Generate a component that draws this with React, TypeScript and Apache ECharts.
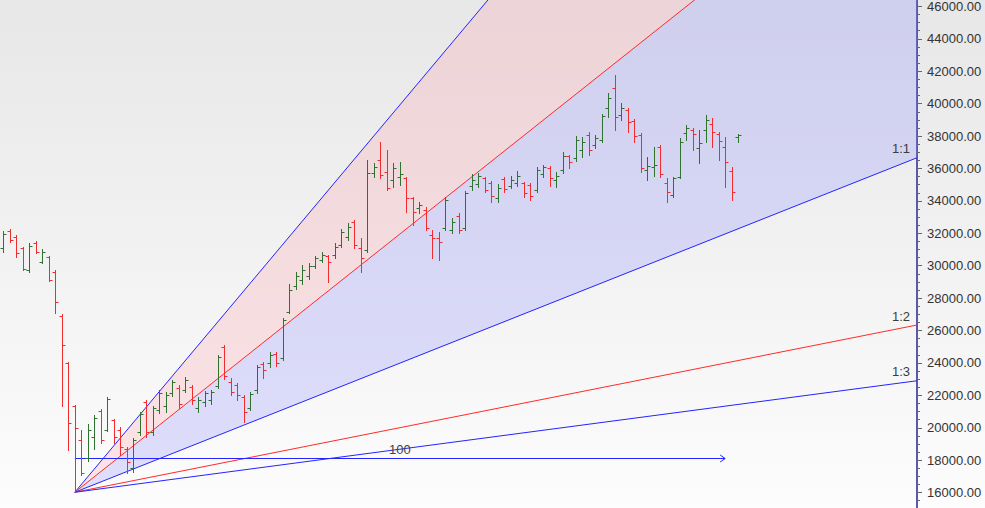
import React, { useEffect, useRef } from 'react';
import * as echarts from 'echarts';

// OHLC bars, index = bar number (x position)
const opens = [
  31070, 32120, 31750, 31070, 29710, 31380, 30210, 30520, 29590, 26880,
  23980, 21320, 19230, 18120, 19410, 21020, 19840, 20460, 19840, 18670,
  17500, 19720, 21570, 19720, 21080, 21320, 22130, 22430, 22310, 22500,
  21200, 21570, 21690, 22560, 24960, 22800, 22620, 21880, 21200, 22310,
  23910, 23980, 24530, 24290, 27120, 28730, 29100, 29340, 29960, 30330,
  30580, 30640, 31260, 31750, 32670, 31070, 30950, 35700, 36500, 35760,
  35270, 35450, 35390, 34160, 33540, 33420, 31870, 31690, 32300, 32180,
  33050, 32300, 34900, 35020, 35390, 35080, 34160, 35330, 34900, 35080,
  35080, 34960, 34650, 35640, 36010, 35270, 35880, 36750, 36620, 37120,
  38040, 37420, 37730, 39710, 40940, 39280, 39580, 38910, 38040, 35880,
  36070, 37300, 35080, 34340, 35450, 38170, 38350, 37240, 38350, 38720,
  38100, 37300, 35820, 37920,
];
const highs = [
  32120, 32240, 31870, 31130, 31380, 31500, 31010, 30580, 29710, 27000,
  24040, 21390, 19840, 20210, 20770, 21140, 21880, 20520, 20030, 18790,
  19350, 20950, 21690, 21320, 22310, 22190, 22930, 22620, 23110, 22620,
  21880, 22250, 22310, 24470, 25090, 23050, 22740, 22000, 22190, 23850,
  24040, 24660, 24660, 26750, 28850, 29590, 30020, 30150, 30580, 30820,
  30640, 31380, 32240, 32610, 32800, 31690, 36500, 36310, 37610, 37120,
  36310, 36380, 35450, 34220, 33910, 33600, 32180, 32060, 34220, 32920,
  33230, 34590, 35640, 35700, 35450, 35200, 35020, 35450, 35510, 35820,
  35140, 35080, 36070, 36190, 36130, 35760, 36990, 36810, 37980, 37920,
  38230, 38040, 39340, 40630, 41740, 40020, 39710, 39030, 38170, 36680,
  37300, 37420, 35390, 35450, 37860, 38660, 38470, 38350, 39280, 39090,
  38230, 37920, 36070, 38100,
];
const lows = [
  30820, 31440, 30520, 29710, 29590, 30760, 30150, 29040, 27060, 21320,
  18610, 16020, 17070, 17930, 18670, 19040, 19780, 19040, 18300, 17190,
  17250, 19530, 19410, 19530, 20890, 20950, 21940, 21200, 22190, 21450,
  20950, 21320, 21450, 22430, 22990, 22000, 21690, 20340, 21080, 22130,
  23050, 23730, 23790, 24160, 27060, 28540, 28850, 29160, 29840, 30210,
  28970, 30450, 31130, 31560, 31070, 29590, 30820, 35450, 35390, 34650,
  34830, 34960, 33290, 32490, 33230, 32180, 30450, 30330, 32180, 32000,
  32000, 32180, 34650, 34830, 34530, 33910, 33910, 34530, 34770, 34900,
  34220, 34030, 34530, 35450, 34900, 34830, 35700, 36010, 36440, 36680,
  36810, 37240, 37610, 39150, 38350, 38970, 38230, 37610, 35760, 35270,
  35510, 35450, 33910, 34220, 35390, 37730, 37120, 36310, 37610, 37300,
  36500, 34830, 34030, 37610,
];
const closes = [
  31930, 31560, 30760, 29780, 31190, 30820, 30820, 29100, 27740, 25090,
  20280, 19970, 17190, 19840, 20580, 19230, 21760, 19410, 18790, 17870,
  19230, 20830, 19720, 21200, 22130, 22000, 22800, 21450, 22930, 21690,
  21690, 22130, 22190, 24350, 23170, 22190, 22000, 20950, 22060, 23730,
  23540, 24470, 23980, 26630, 28480, 29340, 29710, 29960, 30450, 30640,
  30210, 31130, 32060, 32370, 31260, 30450, 35700, 36070, 35570, 34770,
  36010, 35640, 34160, 33290, 33720, 32300, 31690, 31440, 34030, 32670,
  32180, 34460, 35270, 35510, 34650, 34280, 34770, 34710, 35270, 35510,
  34460, 34280, 35880, 36070, 35390, 35510, 36750, 36380, 37730, 37610,
  37120, 37860, 39210, 40320, 39150, 39710, 38840, 37980, 36010, 36130,
  36190, 35640, 34530, 35390, 37610, 38470, 38100, 37550, 38970, 38230,
  37670, 36380, 34530, 38040,
];

// Gann fan
const fanOrigin: [number, number] = [11, 16020];
const fanUnit = 159.4; // price per bar for 1:1
const fanRatios = [3, 2, 1, 1 / 2, 1 / 3];
const fanColors = ['#2424ff', '#ff2a2a', '#2424ff', '#ff2a2a', '#2424ff'];
const fanLabels = ['', '', '1:1', '1:2', '1:3'];

// range measure arrow
const rangeStart = 11;
const rangeEnd = 111;
const rangePrice = 18160;
const rangeLabel = '100';

const yLabelRange = [16000, 46000];

const X_MIN = -0.5;
const X_MAX = 140.5;
const Y_MIN = 14000;
const Y_MAX = 48000;

const FONT = '"Liberation Sans", Arial, sans-serif';
const GREEN = '#2f722f';
const RED = '#f22c2c';

function fanEnd(r: number): [number, number] {
  return [X_MAX, fanOrigin[1] + r * fanUnit * (X_MAX - fanOrigin[0])];
}

export default function App() {
  const ref = useRef<HTMLDivElement>(null);
  useEffect(() => {
    document.body.style.margin = '0';
    document.body.style.overflow = 'hidden';
    const chart = echarts.init(ref.current!, undefined, { renderer: 'svg' });
    const ohlc = opens.map((o, k) => [k, o, highs[k], lows[k], closes[k]]);

    const option: any = {
      animation: false,
      backgroundColor: {
        type: 'linear', x: 0, y: 0, x2: 0, y2: 1,
        colorStops: [
          { offset: 0, color: '#e6e6e7' },
          { offset: 1, color: '#fdfdfd' },
        ],
      },
      grid: { left: 0, right: 68, top: 0, bottom: 0 },
      xAxis: { type: 'value', min: X_MIN, max: X_MAX, show: false },
      yAxis: {
        type: 'value',
        position: 'right',
        min: Y_MIN,
        max: Y_MAX,
        interval: 2000,
        axisLine: { show: true, onZero: false, lineStyle: { color: '#5a5aa8', width: 2 } },
        axisTick: { show: true, length: 5, lineStyle: { color: '#666' } },
        minorTick: { show: true, splitNumber: 4, length: 3, lineStyle: { color: '#666' } },
        splitLine: { show: false },
        axisLabel: {
          showMinLabel: false,
          showMaxLabel: false,
          margin: 10,
          color: '#333',
          fontSize: 13,
          fontFamily: FONT,
          formatter: (v: number) => (v >= yLabelRange[0] && v <= yLabelRange[1] ? v.toFixed(2) : ''),
        },
      },
      series: [
        {
          type: 'custom',
          coordinateSystem: 'cartesian2d',
          clip: true,
          silent: true,
          z: 1,
          data: [fanOrigin],
          encode: { x: 0, y: 1 },
          renderItem: (_p: any, api: any) => {
            const o = api.coord(fanOrigin);
            const a3 = api.coord(fanEnd(fanRatios[0]));
            const a2 = api.coord(fanEnd(fanRatios[1]));
            const a1 = api.coord(fanEnd(fanRatios[2]));
            return {
              type: 'group',
              children: [
                { type: 'polygon', shape: { points: [o, a3, a2] }, style: { fill: 'rgba(255,140,155,0.22)' } },
                { type: 'polygon', shape: { points: [o, a2, a1] }, style: { fill: 'rgba(135,135,255,0.25)' } },
              ],
            };
          },
        },
        ...fanRatios.map((r, k) => ({
          type: 'line',
          data: [fanOrigin, fanEnd(r)],
          symbol: 'none',
          silent: true,
          clip: true,
          z: 2,
          lineStyle: { color: fanColors[k], width: 1 },
        })),
        {
          type: 'custom',
          coordinateSystem: 'cartesian2d',
          silent: true,
          z: 3,
          data: [[rangeStart, rangePrice]],
          encode: { x: 0, y: 1 },
          renderItem: (_p: any, api: any) => {
            const s = api.coord([rangeStart, rangePrice]);
            const e = api.coord([rangeEnd, rangePrice]);
            const y = Math.round(s[1]) + 0.5;
            const children: any[] = [
              { type: 'line', shape: { x1: s[0], y1: y, x2: e[0], y2: y }, style: { stroke: '#2424ff', lineWidth: 1 } },
              { type: 'line', shape: { x1: Math.round(s[0]) + 0.5, y1: y - 4, x2: Math.round(s[0]) + 0.5, y2: y + 4 }, style: { stroke: '#2424ff', lineWidth: 1 } },
              { type: 'polyline', shape: { points: [[e[0] - 5, y - 3.5], [e[0], y], [e[0] - 5, y + 3.5]] }, style: { stroke: '#2424ff', lineWidth: 1, fill: 'none' } },
              {
                type: 'text',
                x: (s[0] + e[0]) / 2,
                y: y - 9,
                style: { text: rangeLabel, fill: '#444', font: `13px ${FONT}`, align: 'center', verticalAlign: 'middle' },
              },
            ];
            fanRatios.forEach((r, k) => {
              if (!fanLabels[k]) return;
              const p = api.coord(fanEnd(r));
              children.push({
                type: 'text',
                x: p[0] - 7,
                y: p[1] - 9,
                style: { text: fanLabels[k], fill: '#3c3c3c', font: `13px ${FONT}`, align: 'right', verticalAlign: 'middle' },
              });
            });
            return { type: 'group', children };
          },
        },
        {
          type: 'custom',
          coordinateSystem: 'cartesian2d',
          clip: true,
          silent: true,
          z: 4,
          data: ohlc,
          encode: { x: 0, y: [1, 2, 3, 4] },
          renderItem: (_p: any, api: any) => {
            const i = api.value(0);
            const o = api.value(1);
            const h = api.value(2);
            const l = api.value(3);
            const c = api.value(4);
            const pH = api.coord([i, h]);
            const pL = api.coord([i, l]);
            const pO = api.coord([i, o]);
            const pC = api.coord([i, c]);
            const x = Math.round(pH[0]) + 0.5;
            const color = c >= o ? GREEN : RED;
            const yo = Math.round(pO[1]) + 0.5;
            const yc = Math.round(pC[1]) + 0.5;
            const st = { stroke: color, lineWidth: 1 };
            return {
              type: 'group',
              children: [
                { type: 'line', shape: { x1: x, y1: Math.round(pH[1]), x2: x, y2: Math.round(pL[1]) + 1 }, style: st },
                { type: 'line', shape: { x1: x - 3, y1: yo, x2: x, y2: yo }, style: st },
                { type: 'line', shape: { x1: x, y1: yc, x2: x + 3, y2: yc }, style: st },
              ],
            };
          },
        },
      ],
    };
    chart.setOption(option);
    return () => chart.dispose();
  }, []);
  return <div ref={ref} style={{ position: 'fixed', left: 0, top: -26, width: 985, height: 551 }} />;
}
